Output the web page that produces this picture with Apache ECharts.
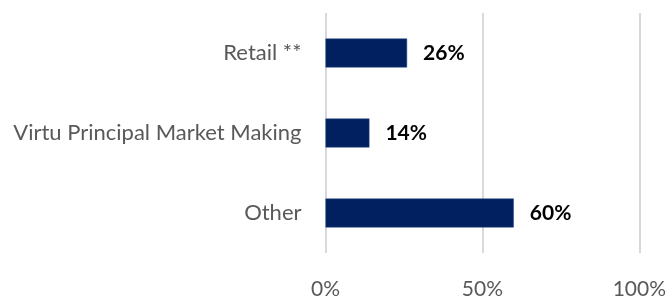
<!DOCTYPE html>
<html>
<head>
<meta charset="utf-8">
<script src="https://cdn.jsdelivr.net/npm/echarts@6/dist/echarts.min.js"></script>
<style>
  html, body { margin: 0; padding: 0; background: #fff; }
  #chart { width: 669px; height: 300px; }
</style>
</head>
<body>
<div id="chart"></div>
<script>
// categories bottom -> top
const categories = ['Other', 'Virtu Principal Market Making', 'Retail **']
const shares = [60, 14, 26]
const tickValues = [0, 50, 100]

const chart = echarts.init(document.getElementById('chart'))
const option = {
    animation: false,
    grid: {
        left: 325.5,
        right: 28,
        top: 13,
        bottom: 40,
        containLabel: false
    },
    xAxis: {
        type: 'value',
        min: tickValues[0],
        max: tickValues[tickValues.length - 1],
        interval: 50,
        axisLine: { show: false },
        axisTick: { show: false },
        splitLine: { lineStyle: { color: '#d9d9d9', width: 2 } },
        axisLabel: {
            formatter: '{value}%',
            color: '#595959',
            fontFamily: 'Lato',
            fontSize: 21,
            margin: 26
        }
    },
    yAxis: {
        type: 'category',
        data: categories,
        axisLine: { show: false },
        axisTick: { show: false },
        axisLabel: {
            color: '#595959',
            fontFamily: 'Lato',
            fontSize: 22,
            margin: 24
        }
    },
    series: [
        {
            type: 'bar',
            data: shares,
            barWidth: 29,
            itemStyle: {
                color: '#002060',
                borderColor: '#2f4f8a',
                borderWidth: 0.5
            },
            label: {
                show: true,
                position: 'right',
                distance: 16,
                formatter: '{c}%',
                color: '#000',
                fontFamily: 'Lato',
                fontWeight: 'bold',
                fontSize: 21
            }
        }
    ]
}
chart.setOption(option)
</script>
</body>
</html>
